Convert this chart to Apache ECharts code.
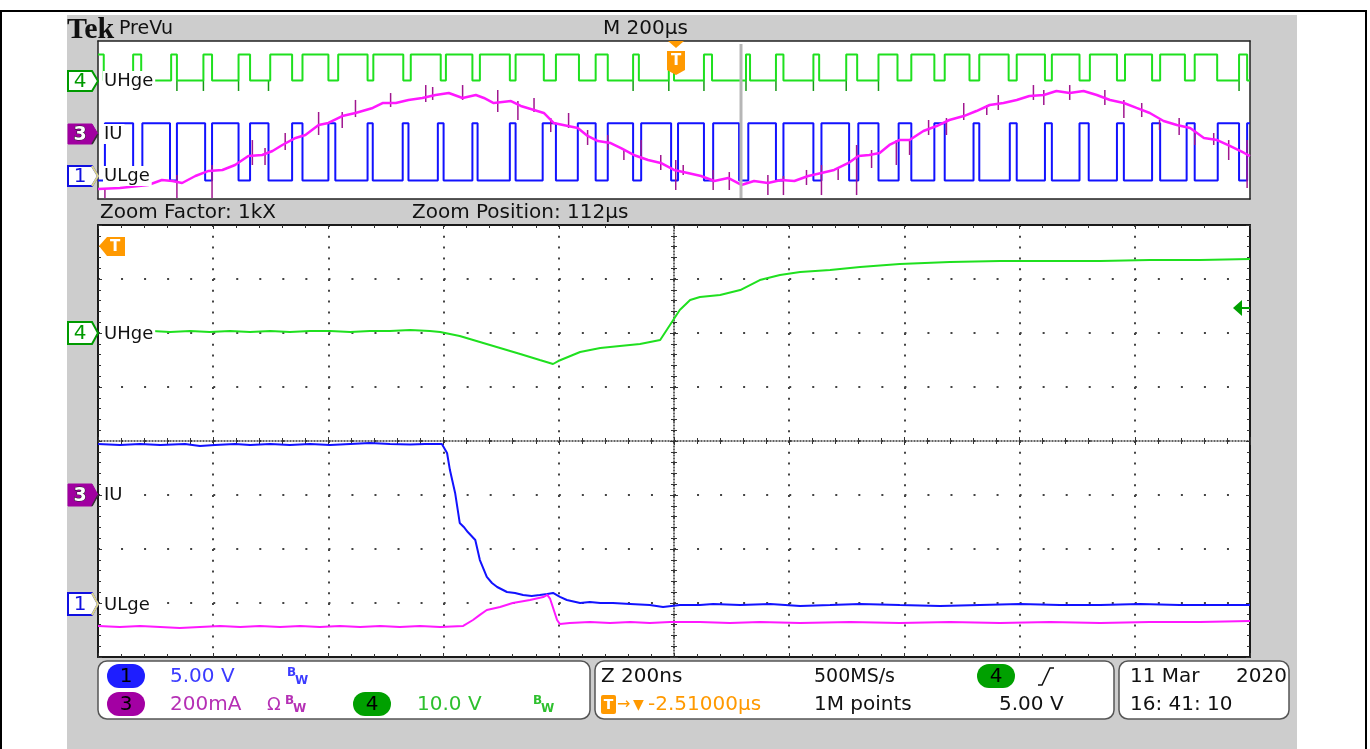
<!DOCTYPE html>
<html>
<head>
<meta charset="utf-8">
<script src="https://cdn.jsdelivr.net/npm/echarts@6/dist/echarts.min.js"></script>
<style>
html,body{margin:0;padding:0;background:#fff;}
#c{width:1370px;height:749px;}
</style>
</head>
<body>
<div id="c"></div>
<script>
// ---------- PreVu record: 2 ms acquisition, time in µs ----------
// Ch4 UHge gate drive: edge times (starts high), levels in V
const uhgeEdgesUs = [10, 61, 75, 127, 137, 183, 198, 244, 264, 299, 337, 355, 400, 417, 468, 478, 530, 543, 595, 604,
  650, 663, 715, 725, 774, 795, 835, 864, 885, 929, 939, 991, 1000, 1052, 1066, 1125, 1132, 1177, 1190, 1242,
  1252, 1299, 1318, 1355, 1388, 1412, 1452, 1470, 1513, 1530, 1581, 1595, 1644, 1656, 1704, 1722, 1769, 1783,
  1830, 1844, 1887, 1904, 1943, 1981, 1995];
const uhgeLevelsV = [0, 13.2];          // low, high
const uhgeSpikesUs = [137, 183, 244, 296, 929, 991, 1052, 1125, 1177, 1242, 1299, 1355, 1981];
const uhgeSpikeV = -5.3;

// Ch1 ULge gate drive: edge times (starts low), levels in V
const ulgeEdgesUs = [12, 61, 77, 125, 137, 186, 198, 244, 264, 296, 337, 355, 400, 412, 468, 477, 529, 539, 590, 600,
  650, 659, 715, 725, 772, 795, 833, 864, 885, 929, 943, 995, 1007, 1052, 1068, 1113, 1129, 1177, 1190, 1242,
  1256, 1304, 1320, 1355, 1390, 1412, 1452, 1470, 1520, 1530, 1583, 1595, 1644, 1656, 1704, 1720, 1769, 1781,
  1830, 1844, 1890, 1904, 1944, 1981, 1995];
const ulgeLevelsV = [-0.3, 14.2];       // low, high

// Ch3 IU phase current [µs, mA]
const iuPrevu = [[0,-499],[38,-489],[87,-458],[111,-408],[129,-418],[146,-438],[169,-367],[192,-316],[216,-306],
  [238,-256],[261,-165],[285,-154],[303,-114],[320,-53],[343,18],[360,48],[383,149],[400,170],[424,240],[447,271],
  [477,322],[494,372],[517,372],[539,403],[563,423],[586,453],[609,473],[633,423],[656,453],[670,423],[687,372],
  [717,392],[734,342],[757,301],[774,271],[791,170],[816,139],[833,119],[850,38],[868,-13],[890,-33],[908,-84],
  [930,-154],[955,-205],[977,-235],[1000,-306],[1024,-337],[1047,-367],[1070,-418],[1094,-387],[1117,-458],
  [1139,-418],[1163,-438],[1186,-408],[1209,-418],[1233,-367],[1256,-337],[1278,-306],[1303,-235],[1320,-165],
  [1339,-154],[1357,-134],[1374,-53],[1391,-3],[1409,-3],[1433,89],[1456,139],[1478,200],[1503,240],[1525,291],
  [1548,352],[1572,372],[1595,403],[1617,443],[1642,453],[1664,494],[1687,473],[1711,494],[1734,453],[1757,403],
  [1781,372],[1803,322],[1826,271],[1850,190],[1873,149],[1896,119],[1920,18],[1943,-3],[1965,-63],[1990,-134],
  [2000,-165]];
// switching spikes on IU [µs, mA from, mA to]
const iuSpikes = [[12,-489,-590],[137,-357,-590],[198,-256,-590],[268,-3,-256],[290,-84,-256],[325,68,-104],
  [383,281,48],[424,281,119],[447,403,230],[508,473,332],[569,554,382],[581,534,403],[633,554,403],[694,504,281],
  [729,392,200],[757,423,281],[786,220,78],[817,271,119],[850,99,-53],[885,48,-104],[913,-104,-205],[943,-3,-205],
  [977,-154,-306],[1003,-205,-509],[1016,-256,-357],[1068,-306,-509],[1096,-327,-509],[1163,-357,-560],
  [1190,-367,-560],[1230,-306,-458],[1256,-256,-560],[1285,-286,-408],[1317,-53,-560],[1343,-104,-286],
  [1386,-3,-256],[1409,-3,-154],[1442,200,48],[1473,220,48],[1503,372,200],[1543,352,251],[1563,453,301],
  [1624,554,403],[1642,504,352],[1687,554,403],[1748,504,352],[1781,403,220],[1812,372,230],[1843,200,99],
  [1877,220,48],[1904,99,-53],[1937,68,-53],[1963,-3,-205],[1995,-3,-489]];

// ---------- Zoom window: 2 µs (200 ns/div), time in ns ----------
const uhgeZoom = [[94,0.37],[125,0.19],[160,0.37],[194,0.19],[229,0.37],[264,0.19],[299,0.37],[333,0.19],[368,0.37],
  [403,0.37],[438,0.19],[472,0.37],[507,0.37],[542,0.56],[576,0.37],[594,0.19],[628,-0.56],[663,-1.67],[698,-2.78],
  [733,-3.89],[767,-5.0],[790,-5.74],[799,-5.19],[837,-3.52],[872,-2.78],[906,-2.41],[941,-2.04],[976,-1.30],
  [993,1.48],[1010,4.26],[1028,6.11],[1045,6.67],[1080,7.04],[1115,7.96],[1149,9.81],[1184,10.74],[1219,11.30],
  [1271,11.67],[1323,12.22],[1392,12.78],[1479,13.15],[1566,13.33],[1653,13.33],[1740,13.33],[1826,13.52],
  [1913,13.52],[2000,13.70]];
const ulgeZoom = [[0,14.72],[38,14.63],[73,14.72],[108,14.63],[151,14.72],[177,14.54],[203,14.63],[238,14.72],
  [264,14.63],[299,14.72],[333,14.63],[368,14.72],[403,14.63],[438,14.72],[472,14.81],[507,14.72],[542,14.68],
  [568,14.72],[597,14.72],[606,13.89],[611,12.31],[620,10.19],[628,7.41],[635,7.04],[642,6.57],[655,5.83],
  [663,3.98],[675,2.41],[684,1.85],[693,1.48],[710,1.02],[724,0.93],[738,0.74],[753,0.65],[767,0.74],[780,0.83],
  [790,0.93],[802,0.56],[814,0.28],[837,0.0],[854,0.09],[872,0.0],[894,0.0],[924,-0.09],[958,-0.19],[981,-0.37],
  [1010,-0.19],[1045,-0.19],[1068,-0.09],[1115,-0.19],[1167,-0.09],[1219,-0.28],[1271,-0.19],[1323,-0.09],
  [1392,-0.19],[1462,-0.28],[1531,-0.19],[1601,-0.09],[1670,-0.19],[1740,-0.19],[1809,-0.09],[1878,-0.19],
  [1948,-0.19],[2000,-0.19]];
const iuZoom = [[0,-485],[38,-489],[73,-485],[108,-489],[142,-493],[177,-489],[212,-485],[247,-489],[281,-485],
  [316,-489],[351,-485],[385,-489],[420,-485],[455,-489],[490,-485],[524,-489],[559,-485],[594,-489],[634,-485],
  [651,-463],[663,-444],[675,-426],[698,-415],[720,-400],[750,-389],[773,-378],[780,-370],[785,-385],[797,-463],
  [802,-478],[819,-474],[854,-470],[889,-474],[924,-470],[958,-474],[993,-470],[1045,-470],[1097,-474],
  [1149,-470],[1219,-474],[1306,-470],[1392,-474],[1479,-470],[1566,-474],[1653,-470],[1740,-474],[1826,-470],
  [1913,-470],[2000,-467]];

// channel settings: volts (or mA) per division and ground offset in divisions
const chScale = { ch1: 5, ch3: 200, ch4: 10 };
const chOffsetDiv = { ch1: -3, ch3: -1, ch4: 2 };
const statusRow1 = ['5.00 V', 'Z 200ns', '500MS/s', '11 Mar', '2020'];
const statusRow2 = ['200mA', '10.0 V', '-2.51000µs', '1M points', '5.00 V', '16: 41: 10'];

// ---------- helpers ----------
const GREEN = '#1fe01f', BLUE = '#1212ff', PINK = '#ff18ff', SPIKE = '#a0168f', GSPIKE = '#129a12';
const SANS = '"DejaVu Sans", "Liberation Sans", sans-serif';

function stepTrace(edges, levels, startHigh, tEnd) {
  let lvl = startHigh ? 1 : 0;
  const pts = [[0, levels[lvl]]];
  edges.forEach(t => { pts.push([t, levels[lvl]]); lvl = 1 - lvl; pts.push([t, levels[lvl]]); });
  pts.push([tEnd, levels[lvl]]);
  return pts;
}
function chAxis(grid, ch) {
  const s = chScale[ch], o = chOffsetDiv[ch];
  return { gridIndex: grid, type: 'value', show: false, min: (-4 - o) * s, max: (4 - o) * s,
           axisLine: { show: false, onZero: false } };
}
function spikeRender(color) {
  return function (params, api) {
    const a = api.coord([api.value(0), api.value(1)]);
    const b = api.coord([api.value(0), api.value(2)]);
    return { type: 'line', shape: { x1: a[0], y1: a[1], x2: b[0], y2: b[1] },
             style: { stroke: color, lineWidth: 1.5 } };
  };
}
function txt(x, y, s, color, size, extra) {
  return Object.assign({ type: 'text', x: x, y: y, z: 20,
    style: Object.assign({ text: s, fill: color, font: size + 'px ' + SANS,
      textAlign: 'left', textVerticalAlign: 'middle', align: 'left', verticalAlign: 'middle' }, extra || {}) });
}
function ctxt(x, y, s, color, font) {
  return { type: 'text', x: x, y: y, z: 22,
    style: { text: s, fill: color, font: font, textAlign: 'center', textVerticalAlign: 'middle',
             align: 'center', verticalAlign: 'middle' } };
}
function labelTxt(x, y, s) {
  return txt(x, y, s, '#111', 18, { backgroundColor: '#fff', padding: [1, 2, 1, 1] });
}
function marker(yc, h, kind) {
  const t = yc - h / 2, b = yc + h / 2;
  const pts = [[68, t], [92, t], [98, yc], [92, b], [68, b]];
  const out = [];
  if (kind === 4) {
    out.push({ type: 'polygon', z: 21, shape: { points: pts }, style: { fill: '#fff', stroke: '#009a00', lineWidth: 2 } });
    out.push(ctxt(80, yc + 1, '4', '#009a00', '20px ' + SANS));
  } else if (kind === 3) {
    out.push({ type: 'polygon', z: 21, shape: { points: pts }, style: { fill: '#a000a0', stroke: '#a000a0', lineWidth: 1 } });
    out.push({ type: 'polyline', z: 21, shape: { points: [[92, b], [98, yc]] }, style: { stroke: '#333', lineWidth: 1.5 } });
    const e = ctxt(80, yc + 1, '3', '#fff', 'bold 19px ' + SANS);
    e.style.stroke = '#222'; e.style.lineWidth = 1;
    out.push(e);
  } else {
    out.push({ type: 'polygon', z: 21, shape: { points: pts }, style: { fill: '#fff', stroke: '#1010e0', lineWidth: 2 } });
    out.push({ type: 'polyline', z: 21, shape: { points: [[92, t], [98, yc], [92, b]] }, style: { stroke: '#dcd68a', lineWidth: 2 } });
    out.push(ctxt(80, yc + 1, '1', '#1010e0', '20px ' + SANS));
  }
  return out;
}
function pill(x, y, n, color) {
  return [{ type: 'rect', z: 21, shape: { x: x, y: y, width: 38, height: 24, r: 12 }, style: { fill: color } },
          ctxt(x + 19, y + 12.5, n, '#000', '20px ' + SANS)];
}
function bw(x, y, color) {
  return [txt(x, y - 4, 'B', color, 12, { font: 'bold 12px ' + SANS }),
          txt(x + 8, y + 4, 'W', color, 12, { font: 'bold 12px ' + SANS })];
}

// ---------- static screen furniture ----------
const g = [];
g.push({ type: 'rect', z: -20, shape: { x: 1, y: 11, width: 1365, height: 800 }, style: { fill: '#fff', stroke: '#000', lineWidth: 2 } });
g.push({ type: 'rect', z: -19, shape: { x: 67, y: 15, width: 1230, height: 740 }, style: { fill: '#cdcdcd' } });
g.push({ type: 'rect', z: -18, shape: { x: 98, y: 41, width: 1152, height: 158 }, style: { fill: '#fff' } });
g.push({ type: 'rect', z: -18, shape: { x: 98, y: 225, width: 1152, height: 432 }, style: { fill: '#fff' } });

g.push({ type: 'text', x: 67, y: 30, z: 20, style: { text: 'Tek', fill: '#111', font: 'bold 30px "Liberation Serif", "DejaVu Serif", serif',
  textVerticalAlign: 'middle', verticalAlign: 'middle' } });
g.push(txt(119, 29, 'PreVu', '#111', 19));
g.push(txt(603, 29, 'M 200µs', '#111', 20));
g.push(txt(100, 213, 'Zoom Factor: 1kX', '#111', 20));
g.push(txt(412, 213, 'Zoom Position: 112µs', '#111', 20));

// zoom window indicator and trigger position in the PreVu strip
g.push({ type: 'rect', z: 15, shape: { x: 739.5, y: 44, width: 3, height: 154 }, style: { fill: '#b6b6b6' } });
g.push({ type: 'polygon', z: 21, shape: { points: [[668, 41], [684, 41], [676, 48]] }, style: { fill: '#ff9900' } });
g.push({ type: 'polygon', z: 21, shape: { points: [[667, 51], [685, 51], [685, 70], [676, 75], [667, 70]] }, style: { fill: '#ff9900' } });
g.push(ctxt(676, 61, 'T', '#fff', 'bold 15px ' + SANS));

// trigger flag and trigger level in the zoom window
g.push({ type: 'polygon', z: 21, shape: { points: [[99, 246], [107, 237], [125, 237], [125, 256], [107, 256]] }, style: { fill: '#ff9900' } });
g.push(ctxt(115, 247, 'T', '#fff', 'bold 15px ' + SANS));
g.push({ type: 'polygon', z: 21, shape: { points: [[1233, 308], [1242, 300], [1242, 316]] }, style: { fill: '#00a000' } });
g.push({ type: 'line', z: 21, shape: { x1: 1242, y1: 308, x2: 1250, y2: 308 }, style: { stroke: '#00a000', lineWidth: 2 } });

// channel markers and labels
g.push(...marker(81, 20, 4), labelTxt(103, 81, 'UHge'));
g.push(...marker(134, 20, 3), labelTxt(103, 134, 'IU'));
g.push(...marker(176, 20, 1), labelTxt(103, 176, 'ULge'));
g.push(...marker(333, 22, 4), labelTxt(103, 334, 'UHge'));
g.push(...marker(495, 22, 3), labelTxt(103, 495, 'IU'));
g.push(...marker(604, 22, 1), labelTxt(103, 605, 'ULge'));

// status readout boxes
[[98, 590], [595, 1114], [1119, 1289]].forEach(([a, b]) => {
  g.push({ type: 'rect', z: 19, shape: { x: a, y: 661, width: b - a, height: 58, r: 9 }, style: { fill: '#fff', stroke: '#555', lineWidth: 1.5 } });
});
g.push(...pill(107, 664, '1', '#1e1eff'));
g.push(txt(170, 677, statusRow1[0], '#3b3bff', 20));
g.push(...bw(287, 677, '#3b3bff'));
g.push(...pill(107, 692, '3', '#a300a3'));
g.push(txt(170, 705, statusRow2[0], '#b530b5', 20));
g.push(txt(267, 705, 'Ω', '#b530b5', 18));
g.push(...bw(285, 705, '#b530b5'));
g.push(...pill(353, 692, '4', '#00a000'));
g.push(txt(417, 705, statusRow2[1], '#2ec02e', 20));
g.push(...bw(533, 705, '#2ec02e'));

g.push(txt(601, 677, statusRow1[1], '#111', 20));
g.push(txt(814, 677, statusRow1[2], '#111', 19));
g.push(...pill(977, 664, '4', '#00a000'));
g.push({ type: 'polyline', z: 21, shape: { points: [[1038, 685], [1042, 685], [1050, 668], [1054, 668]] }, style: { stroke: '#111', lineWidth: 1.5 } });
g.push({ type: 'rect', z: 21, shape: { x: 601, y: 695, width: 15, height: 19, r: 2 }, style: { fill: '#ff9900' } });
g.push(ctxt(608.5, 705, 'T', '#fff', 'bold 14px ' + SANS));
g.push(txt(617, 705, '→', '#ff9900', 16));
g.push(txt(633, 705, '▼', '#ff9900', 14));
g.push(txt(648, 705, statusRow2[2], '#ff9900', 20));
g.push(txt(814, 705, statusRow2[3], '#111', 20));
g.push(txt(999, 705, statusRow2[4], '#111', 20));

g.push(txt(1130, 677, statusRow1[3], '#111', 20));
g.push(txt(1236, 677, statusRow1[4], '#111', 20));
g.push(txt(1130, 705, statusRow2[5], '#111', 20));

// ---------- axes ----------
const off = { show: false };
function line(color, width, type) {
  return { show: true, onZero: false, lineStyle: { color: color, width: width, type: type || 'solid' } };
}
function frameX(grid, pos, extra) {
  return Object.assign({ gridIndex: grid, type: 'value', position: pos, min: 0, max: 2000,
    axisLabel: off, axisTick: off, splitLine: off, axisLine: line('#1a1a1a', 2) }, extra || {});
}
function frameY(grid, pos, extra) {
  return Object.assign({ gridIndex: grid, type: 'value', position: pos, min: -4, max: 4,
    axisLabel: off, axisTick: off, splitLine: off, axisLine: line('#1a1a1a', 2) }, extra || {});
}
const tickIn = { show: true, inside: true, length: 4, lineStyle: { color: '#333', width: 1 } };
const tickOut = { show: true, inside: false, length: 4, lineStyle: { color: '#333', width: 1 } };
const minor = { show: true, splitNumber: 5, length: 3, lineStyle: { color: '#333', width: 1 } };
const centreLine = line('#333', 1.5, [1, 2]);
const hidden = { show: false, onZero: false };

const xAxis = [
  frameX(0, 'bottom', { axisLine: line('#222', 1.5) }),
  frameX(0, 'top', { axisLine: line('#222', 1.5) }),
  frameX(1, 'bottom', { interval: 200, axisTick: tickIn, minorTick: minor,
    splitLine: { show: true, lineStyle: { color: '#444', width: 2, type: [2, 8.8] } } }),
  frameX(1, 'top', { interval: 200, axisTick: tickIn, minorTick: minor }),
  frameX(1, 'bottom', { interval: 200, offset: -216, axisLine: centreLine, axisTick: tickIn, minorTick: minor }),
  frameX(1, 'bottom', { interval: 200, offset: -216, axisLine: hidden, axisTick: tickOut, minorTick: minor })
];
const yAxis = [
  chAxis(0, 'ch4'), chAxis(0, 'ch3'), chAxis(0, 'ch1'),
  frameY(0, 'left', { axisLine: line('#222', 1.5) }),
  frameY(0, 'right', { axisLine: line('#222', 1.5) }),
  frameY(1, 'left', { interval: 1, axisTick: tickIn, minorTick: minor,
    splitLine: { show: true, lineStyle: { color: '#444', width: 2, type: [2, 21.04] } } }),
  frameY(1, 'right', { interval: 1, axisTick: tickIn, minorTick: minor }),
  frameY(1, 'left', { interval: 1, offset: -576, axisLine: centreLine, axisTick: tickIn, minorTick: minor }),
  frameY(1, 'left', { interval: 1, offset: -576, axisLine: hidden, axisTick: tickOut, minorTick: minor }),
  chAxis(1, 'ch4'), chAxis(1, 'ch3'), chAxis(1, 'ch1')
];

function trace(xi, yi, data, color, w, z) {
  return { type: 'line', xAxisIndex: xi, yAxisIndex: yi, data: data, showSymbol: false, symbol: 'none',
    silent: true, z: z || 3, lineStyle: { color: color, width: w }, emphasis: { disabled: true } };
}

const series = [
  trace(0, 0, stepTrace(uhgeEdgesUs, uhgeLevelsV, true, 2000), GREEN, 2),
  { type: 'custom', xAxisIndex: 0, yAxisIndex: 0, silent: true, z: 3, renderItem: spikeRender(GSPIKE),
    encode: { x: 0, y: [1, 2] }, data: uhgeSpikesUs.map(t => [t, uhgeLevelsV[0], uhgeSpikeV]) },
  trace(0, 2, stepTrace(ulgeEdgesUs, ulgeLevelsV, false, 2000), BLUE, 2),
  { type: 'custom', xAxisIndex: 0, yAxisIndex: 1, silent: true, z: 4, renderItem: spikeRender(SPIKE),
    encode: { x: 0, y: [1, 2] }, data: iuSpikes },
  trace(0, 1, iuPrevu, PINK, 2.5, 5),
  trace(2, 9, uhgeZoom, GREEN, 2),
  trace(2, 11, ulgeZoom, BLUE, 2),
  trace(2, 10, iuZoom, PINK, 2)
];

const chart = echarts.init(document.getElementById('c'), null, { renderer: 'canvas' });
chart.setOption({
  animation: false,
  backgroundColor: '#fff',
  grid: [
    { left: 98, top: 41, width: 1152, height: 158, containLabel: false, outerBoundsMode: 'none', show: false },
    { left: 98, top: 225, width: 1152, height: 432, containLabel: false, outerBoundsMode: 'none', show: false }
  ],
  xAxis: xAxis,
  yAxis: yAxis,
  series: series,
  graphic: { elements: g }
});
</script>
</body>
</html>
